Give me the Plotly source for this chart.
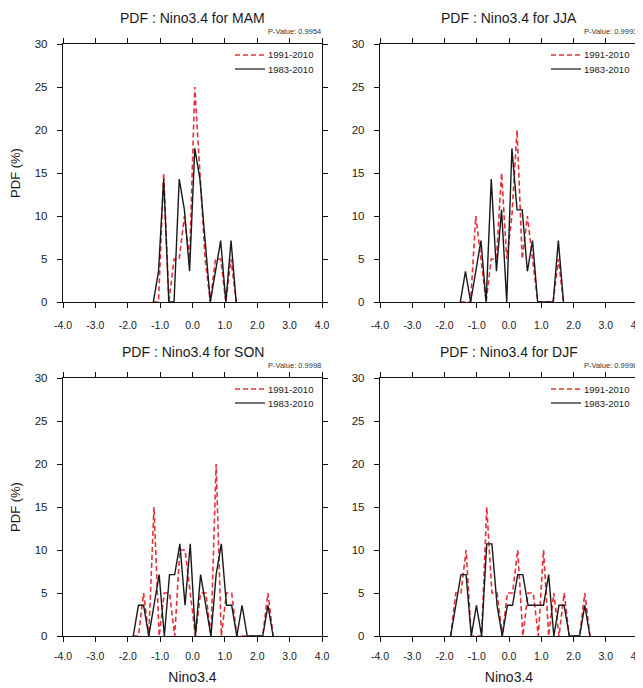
import plotly.graph_objects as go

# ---------------- data ----------------
seasons = ["MAM", "JJA", "SON", "DJF"]
p_values = ["0.9954", "0.9993", "0.9998", "0.9998"]
series_names = ["1991-2010", "1983-2010"]

mam_x = [-1.21, -1.05, -0.89, -0.73, -0.57, -0.41, -0.25, -0.09, 0.07, 0.23, 0.39,
         0.55, 0.71, 0.87, 1.03, 1.19, 1.35]
mam_1991 = [0, 0, 15, 0, 5, 5, 10, 5, 25, 15, 5, 0, 5, 5, 0, 5, 0]
mam_1983 = [0, 3.57, 14.29, 0, 0, 14.29, 10.71, 3.57, 17.86, 14.29, 7.14, 0, 3.57,
            7.14, 0, 7.14, 0]

jja_x = [-1.51, -1.35, -1.19, -1.03, -0.87, -0.71, -0.55, -0.39, -0.23, -0.07, 0.09,
         0.25, 0.41, 0.57, 0.73, 0.89, 1.05, 1.21, 1.37, 1.53, 1.69]
jja_1991 = [0, 0, 0, 10, 5, 0, 5, 5, 15, 5, 10, 20, 5, 10, 5, 0, 0, 0, 0, 5, 0]
jja_1983 = [0, 3.57, 0, 3.57, 7.14, 0, 14.29, 3.57, 10.71, 0, 17.86, 10.71, 10.71,
            3.57, 7.14, 0, 0, 0, 0, 7.14, 0]

son_x = [-1.83, -1.67, -1.51, -1.35, -1.19, -1.03, -0.87, -0.71, -0.55, -0.39, -0.23,
         -0.07, 0.09, 0.25, 0.41, 0.57, 0.73, 0.89, 1.05, 1.21, 1.37, 1.53, 1.69, 1.85,
         2.01, 2.17, 2.33, 2.49]
son_1991 = [0, 0, 5, 0, 15, 0, 5, 5, 0, 10, 10, 5, 0, 5, 5, 0, 20, 0, 5, 5, 0, 0, 0,
            0, 0, 0, 5, 0]
son_1983 = [0, 3.57, 3.57, 0, 3.57, 7.14, 0, 7.14, 7.14, 10.71, 3.57, 10.71, 0, 7.14,
            3.57, 0, 7.14, 10.71, 3.57, 3.57, 0, 3.57, 0, 0, 0, 0, 3.57, 0]

djf_x = [-1.81, -1.65, -1.49, -1.33, -1.17, -1.01, -0.85, -0.69, -0.53, -0.37, -0.21,
         -0.05, 0.11, 0.27, 0.43, 0.59, 0.75, 0.91, 1.07, 1.23, 1.39, 1.55, 1.71, 1.87,
         2.03, 2.19, 2.35, 2.51]
djf_1991 = [0, 5, 5, 10, 0, 0, 0, 15, 5, 5, 0, 5, 5, 10, 0, 5, 5, 0, 10, 0, 5, 0, 5,
            0, 0, 0, 5, 0]
djf_1983 = [0, 3.57, 7.14, 7.14, 0, 3.57, 0, 10.71, 10.71, 3.57, 0, 3.57, 3.57, 7.14,
            7.14, 3.57, 3.57, 3.57, 3.57, 7.14, 0, 3.57, 3.57, 0, 0, 0, 3.57, 0]

x_ticks = [-4, -3, -2, -1, 0, 1, 2, 3, 4]
x_tick_labels = ["-4.0", "-3.0", "-2.0", "-1.0", "0.0", "1.0", "2.0", "3.0", "4.0"]
y_ticks = [0, 5, 10, 15, 20, 25, 30]

panels = [
    (mam_x, mam_1991, mam_1983),
    (jja_x, jja_1991, jja_1983),
    (son_x, son_1991, son_1983),
    (djf_x, djf_1991, djf_1983),
]

# ---------------- layout geometry ----------------
# page body has an 8px margin, so the figure is 8px smaller and everything shifted
OFF = 8
W, H = 643 - OFF, 688 - OFF
px_left = [(63, 322), (380, 638), (63, 322), (380, 638)]
px_top = [(44, 302), (44, 302), (378, 636), (378, 636)]

FONT = "Liberation Sans, Arial, Helvetica, sans-serif"
RED = "rgb(228,48,52)"
BLACK = "rgb(25,25,25)"
RED_DASH = "5px,3px"

fig = go.Figure()
layout = dict(
    width=W, height=H,
    margin=dict(l=0, r=0, t=0, b=0, autoexpand=False),
    paper_bgcolor="white", plot_bgcolor="white",
    font=dict(family=FONT, color="#1a1a1a"),
    showlegend=False,
)
annotations = []
shapes = []

for i, (season, pv, (xs, red, blk)) in enumerate(zip(seasons, p_values, panels)):
    n = "" if i == 0 else str(i + 1)
    xa, ya = "x" + n, "y" + n
    fig.add_trace(go.Scatter(
        x=xs, y=red, mode="lines", name=series_names[0],
        line=dict(color=RED, width=1.6, dash=RED_DASH),
        xaxis=xa, yaxis=ya, hoverinfo="x+y"))
    fig.add_trace(go.Scatter(
        x=xs, y=blk, mode="lines", name=series_names[1],
        line=dict(color=BLACK, width=1.4),
        xaxis=xa, yaxis=ya, hoverinfo="x+y"))

    x0, x1 = (v - OFF for v in px_left[i])
    y0, y1 = (v - OFF for v in px_top[i])
    dx = [x0 / W, x1 / W]
    dy = [1 - y1 / H, 1 - y0 / H]
    bottom_row = i >= 2
    common = dict(
        showline=True, linecolor="#111", linewidth=1.4, mirror="ticks",
        ticks="outside", ticklen=5, tickwidth=1.2, tickcolor="#111",
        showgrid=False, zeroline=False, fixedrange=True, automargin=False,
        ticklabeloverflow="allow",
    )
    layout["xaxis" + n] = dict(
        common, domain=dx, anchor=ya, range=[-4, 4],
        tickmode="array", tickvals=x_ticks, ticktext=x_tick_labels,
        tickfont=dict(size=10.5, family=FONT, color="#1a1a1a"),
        ticklabelstandoff=5 if bottom_row else 8,
        title=dict(text="Nino3.4" if bottom_row else "", font=dict(size=14, family=FONT),
                   standoff=11),
    )
    layout["yaxis" + n] = dict(
        common, domain=dy, anchor=xa, range=[0, 30],
        tickmode="array", tickvals=y_ticks,
        tickfont=dict(size=11.5, family=FONT, color="#1a1a1a"),
        ticklabelstandoff=7,
        title=dict(text="PDF (%)" if i in (0, 2) else "", font=dict(size=13, family=FONT),
                   standoff=13),
    )
    # title and p-value
    annotations.append(dict(
        text="PDF : Nino3.4 for " + season, xref="paper", yref="paper",
        x=(dx[0] + dx[1]) / 2, y=dy[1] + 36 / H, xanchor="center", yanchor="top",
        showarrow=False, font=dict(size=14, family=FONT, color="#1a1a1a")))
    annotations.append(dict(
        text="P-Value: " + pv, xref="paper", yref="paper",
        x=dx[1] + 1 / W, y=dy[1] + 12 / H, xanchor="right", yanchor="middle",
        showarrow=False, font=dict(size=7.5, family=FONT, color="#333")))
    # legend (drawn inside the top-right of each panel)
    for k, (name, col, dash, wid) in enumerate([
            (series_names[0], RED, RED_DASH, 1.4),
            (series_names[1], BLACK, "solid", 1.2)]):
        ly = 1 - (y0 + 11 + 14 * k) / H
        shapes.append(dict(
            type="line", xref="paper", yref="paper",
            x0=(x1 - 87) / W, x1=(x1 - 57) / W, y0=ly, y1=ly,
            line=dict(color=col, width=wid, dash=dash)))
        annotations.append(dict(
            text=name, xref="paper", yref="paper",
            x=(x1 - 56) / W, y=ly, xanchor="left", yanchor="middle",
            showarrow=False, font=dict(size=9.5, family=FONT, color="#222")))

layout["annotations"] = annotations
layout["shapes"] = shapes
fig.update_layout(**layout)
fig.write_html("out.html")
